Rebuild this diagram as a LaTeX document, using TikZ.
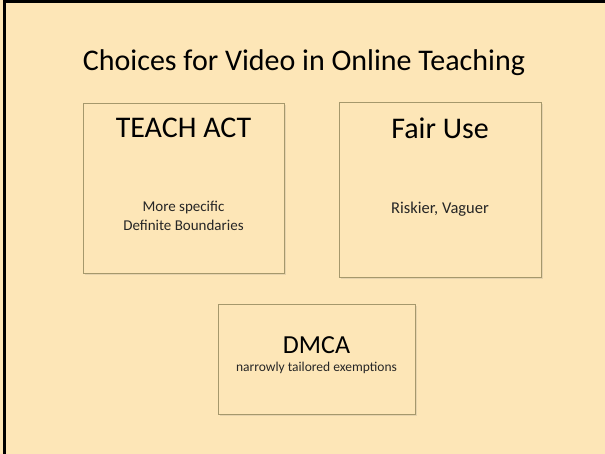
\documentclass[tikz,border=0pt]{standalone}
\usepackage{fontspec}
\setmainfont{Carlito}
\usetikzlibrary{shadows}
\definecolor{slidebg}{RGB}{253,230,183}
\definecolor{boxline}{RGB}{165,152,108}
\tikzset{
  choice/.style={draw=boxline, line width=1pt, fill=slidebg,
    drop shadow={shadow xshift=1.5pt, shadow yshift=-1.5pt, opacity=0.18},
    inner sep=0pt},
  heading/.style={font=\fontsize{30}{36}\selectfont, text=black},
  detail/.style={align=center, text=black!85}
}
\begin{document}
\begin{tikzpicture}[x=1pt, y=-1pt]
                    % Slide
                    \useasboundingbox (0,0) rectangle (605,454);
                    \fill[slidebg] (0,0) rectangle (605,454);
                    \draw[line width=3pt] (4.5,454) -- (4.5,1.5) -- (605,1.5);
                    % Title
                    \node[font=\fontsize{30}{36}\selectfont] (title) at (304,63)
                        {Choices for Video in Online Teaching};
                    % TEACH ACT
                    \node[choice, minimum width=201pt, minimum height=170pt] (teach) at (183.5,189) {};
                    \node[heading] (teachhead) at (183.5,128) {TEACH ACT};
                    \node[detail, font=\fontsize{15}{19}\selectfont] (teachtext) at (183.5,216)
                        {More specific\\Definite Boundaries};
                    % Fair Use
                    \node[choice, minimum width=202pt, minimum height=175pt] (fair) at (440,190.5) {};
                    \node[heading] (fairhead) at (440,128) {Fair Use};
                    \node[detail, font=\fontsize{16.5}{20}\selectfont] (fairtext) at (440,209) {Riskier, Vaguer};
                    % DMCA
                    \node[choice, minimum width=197pt, minimum height=109pt] (dmca) at (316.5,359.5) {};
                    \node[heading, font=\fontsize{26}{30}\selectfont] (dmcahead) at (316.5,345) {DMCA};
                    \node[detail, font=\fontsize{13.5}{17}\selectfont] (dmcatext) at (316.5,368)
                        {narrowly tailored exemptions};
                \end{tikzpicture}
\end{document}
